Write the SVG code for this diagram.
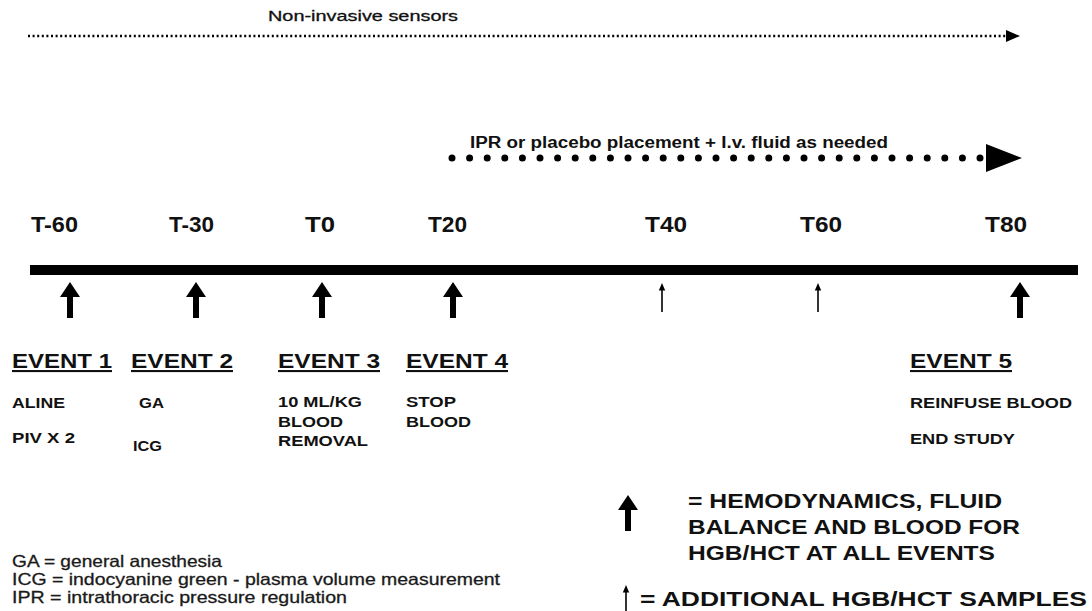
<svg xmlns="http://www.w3.org/2000/svg" width="1092" height="611" viewBox="0 0 1092 611">
<style>
text{font-family:"Liberation Sans",Arial,sans-serif;fill:#111;}
.t{font-size:22px;font-weight:bold;}
.ev{font-size:21px;font-weight:bold;text-decoration:underline;}
.s{font-size:14px;font-weight:bold;}
.lg{font-size:16.5px;fill:#1a1a1a;stroke:#1a1a1a;stroke-width:0.3px;}
.big{font-size:20px;font-weight:bold;}
.arr{fill:#000;}
</style>
<rect width="1092" height="611" fill="#fff"/>
<defs>
  <g id="bigArrow"><polygon points="0,0 10,15 3,15 3,36 -3,36 -3,15 -10,15" fill="#000"/></g>
  <g id="smallArrow"><line x1="0" y1="5" x2="0" y2="29" stroke="#000" stroke-width="1.6"/><polygon points="0,0 3.2,7.5 -3.2,7.5" fill="#000"/></g>
</defs>
<g id="connectors">
  <line x1="28" y1="36" x2="1006" y2="36" stroke="#000" stroke-width="2.5" stroke-dasharray="2 2.6"/>
  <polygon points="1006,30 1020,36 1006,42" class="arr"/>
  <line x1="452" y1="158" x2="982" y2="158" stroke="#000" stroke-width="7" stroke-linecap="round" stroke-dasharray="0 17.6"/>
  <polygon points="986,144 1022,158 986,172" class="arr"/>
  <rect x="30" y="265" width="1048" height="10" class="arr"/>
</g>
<g id="labels-top">
  <text x="268" y="21" style="font-size:14px;stroke:#111;stroke-width:0.3px" textLength="190" lengthAdjust="spacingAndGlyphs">Non-invasive sensors</text>
  <text x="470" y="148" style="font-size:16px;font-weight:bold" textLength="418" lengthAdjust="spacingAndGlyphs">IPR or placebo placement + I.v. fluid as needed</text>
</g>
<g id="times">
  <text class="t" x="31" y="232" textLength="47" lengthAdjust="spacingAndGlyphs">T-60</text>
  <text class="t" x="169" y="232" textLength="45" lengthAdjust="spacingAndGlyphs">T-30</text>
  <text class="t" x="305" y="232" textLength="30" lengthAdjust="spacingAndGlyphs">T0</text>
  <text class="t" x="428" y="232" textLength="39" lengthAdjust="spacingAndGlyphs">T20</text>
  <text class="t" x="645" y="232" textLength="42" lengthAdjust="spacingAndGlyphs">T40</text>
  <text class="t" x="800" y="232" textLength="42" lengthAdjust="spacingAndGlyphs">T60</text>
  <text class="t" x="985" y="232" textLength="42" lengthAdjust="spacingAndGlyphs">T80</text>
</g>
<g id="arrows">
  <use href="#bigArrow" x="70" y="282"/>
  <use href="#bigArrow" x="196" y="282"/>
  <use href="#bigArrow" x="322" y="282"/>
  <use href="#bigArrow" x="453" y="282"/>
  <use href="#bigArrow" x="1020" y="282"/>
  <use href="#smallArrow" x="662" y="283"/>
  <use href="#smallArrow" x="818" y="283"/>
</g>
<g id="event1">
  <text class="ev" x="12" y="368" textLength="100" lengthAdjust="spacingAndGlyphs">EVENT 1</text>
  <text class="s" x="12" y="408" textLength="53" lengthAdjust="spacingAndGlyphs">ALINE</text>
  <text class="s" x="12" y="443" textLength="63" lengthAdjust="spacingAndGlyphs">PIV X 2</text>
</g>
<g id="event2">
  <text class="ev" x="131" y="368" textLength="102" lengthAdjust="spacingAndGlyphs">EVENT 2</text>
  <text class="s" x="139" y="408" textLength="25" lengthAdjust="spacingAndGlyphs">GA</text>
  <text class="s" x="133" y="451" textLength="29" lengthAdjust="spacingAndGlyphs">ICG</text>
</g>
<g id="event3">
  <text class="ev" x="278" y="368" textLength="102" lengthAdjust="spacingAndGlyphs">EVENT 3</text>
  <text class="s" x="278" y="407" textLength="84" lengthAdjust="spacingAndGlyphs">10 ML/KG</text>
  <text class="s" x="278" y="427" textLength="65" lengthAdjust="spacingAndGlyphs">BLOOD</text>
  <text class="s" x="278" y="446" textLength="90" lengthAdjust="spacingAndGlyphs">REMOVAL</text>
</g>
<g id="event4">
  <text class="ev" x="406" y="368" textLength="102" lengthAdjust="spacingAndGlyphs">EVENT 4</text>
  <text class="s" x="406" y="407" textLength="50" lengthAdjust="spacingAndGlyphs">STOP</text>
  <text class="s" x="406" y="427" textLength="65" lengthAdjust="spacingAndGlyphs">BLOOD</text>
</g>
<g id="event5">
  <text class="ev" x="910" y="368" textLength="102" lengthAdjust="spacingAndGlyphs">EVENT 5</text>
  <text class="s" x="910" y="408" textLength="162" lengthAdjust="spacingAndGlyphs">REINFUSE BLOOD</text>
  <text class="s" x="910" y="444" textLength="105" lengthAdjust="spacingAndGlyphs">END STUDY</text>
</g>
<g id="abbrev">
  <text class="lg" x="12" y="567" textLength="210" lengthAdjust="spacingAndGlyphs">GA = general anesthesia</text>
  <text class="lg" x="12" y="585" textLength="488" lengthAdjust="spacingAndGlyphs">ICG = indocyanine green - plasma volume measurement</text>
  <text class="lg" x="12" y="603" textLength="335" lengthAdjust="spacingAndGlyphs">IPR = intrathoracic pressure regulation</text>
</g>
<g id="legend">
  <use href="#bigArrow" x="628" y="495"/>
  <text class="big" x="688" y="508" textLength="314" lengthAdjust="spacingAndGlyphs">= HEMODYNAMICS, FLUID</text>
  <text class="big" x="688" y="534" textLength="332" lengthAdjust="spacingAndGlyphs">BALANCE AND BLOOD FOR</text>
  <text class="big" x="688" y="560" textLength="307" lengthAdjust="spacingAndGlyphs">HGB/HCT AT ALL EVENTS</text>
  <use href="#smallArrow" x="626" y="585"/>
  <text class="big" x="640" y="606" textLength="447" lengthAdjust="spacingAndGlyphs">= ADDITIONAL HGB/HCT SAMPLES</text>
</g>
</svg>
